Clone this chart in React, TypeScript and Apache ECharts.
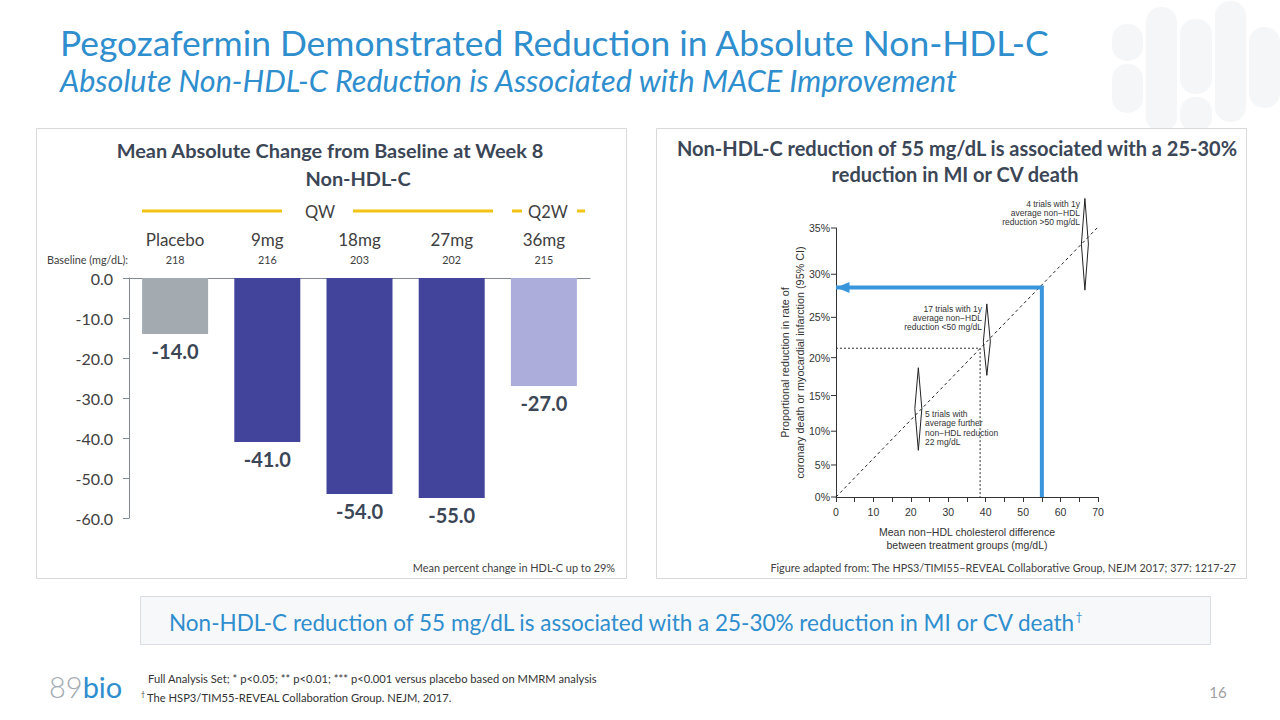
import React, { useEffect, useRef } from "react";
import * as echarts from "echarts";

// ---------- Left chart data ----------
const CATEGORIES = ["Placebo", "9mg", "18mg", "27mg", "36mg"];
const BASELINE_MGDL = [218, 216, 203, 202, 215];
const MEAN_ABS_CHANGE = [-14.0, -41.0, -54.0, -55.0, -27.0];
const BAR_COLORS = ["#a3abb1", "#42439b", "#42439b", "#42439b", "#adaddb"];
const LEFT_Y_MIN = -60;
const LEFT_Y_MAX = 0;
const LEFT_Y_STEP = 10;

// ---------- Right chart data (HPS3/TIMI55-REVEAL figure) ----------
const RIGHT_X_MIN = 0;
const RIGHT_X_MAX = 70;
const RIGHT_X_STEP = 10;
const RIGHT_Y_TICKS_PCT = [0, 5, 10, 15, 20, 25, 30, 35];
const TREND_LINE = [
  [0, 0],
  [70, 35.1],
];
// [x, lower %, mid %, upper %]
const TRIAL_DIAMONDS = [
  [22.0, 7.2, 13.2, 18.7],
  [40.3, 17.7, 22.0, 26.6],
  [66.5, 28.2, 33.3, 38.0],
];
const REFERENCE_POINT = [38.5, 21.2];
const PEGO_POINT = [55, 28.5];

// proportional reduction scale (log risk ratio)
const T = (p: number) => -Math.log(1 - p / 100);

const SANS = "Lato, 'Noto Sans', sans-serif";
const ARIAL = "'Liberation Sans', Arial, sans-serif";
const BLUE = "#2e8ece";
const SLATE = "#3b4656";
const YELLOW = "#f2c314";

function txt(
  x: number,
  y: number,
  text: string,
  font: string,
  fill: string,
  align: string = "left",
  vAlign: string = "middle",
  extra: any = {}
) {
  return {
    type: "text",
    x,
    y,
    silent: true,
    style: { text, font, fill, textAlign: align, textVerticalAlign: vAlign, ...extra },
  };
}

export default function App() {
  const ref = useRef<HTMLDivElement>(null);

  useEffect(() => {
    if (!ref.current) return;
    const chart = echarts.init(ref.current, null, { renderer: "svg" });

    const pills = [
      [1112, 24, 31, 37],
      [1112, 64, 31, 49],
      [1146, 7, 31, 125],
      [1180, 19, 32, 75],
      [1180, 97, 32, 35],
      [1215, 1, 31, 121],
      [1249, 27, 31, 81],
    ];

    const graphic: any[] = [
      ...pills.map(([x, y, w, h]) => ({
        type: "rect",
        silent: true,
        z: -10,
        shape: { x, y, width: w, height: h, r: 15 },
        style: { fill: "#f5f6f7" },
      })),
      // panels
      {
        type: "rect",
        silent: true,
        z: -5,
        shape: { x: 36.5, y: 128.5, width: 590, height: 450 },
        style: { fill: "#ffffff", stroke: "#d9d9d9", lineWidth: 1 },
      },
      {
        type: "rect",
        silent: true,
        z: -5,
        shape: { x: 656.5, y: 128.5, width: 590, height: 450 },
        style: { fill: "#ffffff", stroke: "#d9d9d9", lineWidth: 1 },
      },
      {
        type: "rect",
        silent: true,
        z: -5,
        shape: { x: 140.5, y: 596.5, width: 1070, height: 48 },
        style: { fill: "#f7f8fa", stroke: "#d9dce0", lineWidth: 1 },
      },
      // page title
      txt(60, 42, "Pegozafermin Demonstrated Reduction in Absolute Non-HDL-C", `35.4px ${SANS}`, BLUE),
      txt(
        60,
        80,
        "Absolute Non-HDL-C Reduction is Associated with MACE Improvement",
        `italic 30.5px ${SANS}`,
        BLUE
      ),
      // left panel titles
      txt(330, 150, "Mean Absolute Change from Baseline at Week 8", `bold 19.9px ${SANS}`, SLATE, "center"),
      txt(358, 178, "Non-HDL-C", `bold 19.9px ${SANS}`, SLATE, "center"),
      // QW / Q2W header
      { type: "line", silent: true, shape: { x1: 142, y1: 211, x2: 282, y2: 211 }, style: { stroke: YELLOW, lineWidth: 3 } },
      { type: "line", silent: true, shape: { x1: 353, y1: 211, x2: 493, y2: 211 }, style: { stroke: YELLOW, lineWidth: 3 } },
      { type: "line", silent: true, shape: { x1: 512, y1: 211, x2: 522, y2: 211 }, style: { stroke: YELLOW, lineWidth: 3 } },
      { type: "line", silent: true, shape: { x1: 577, y1: 211, x2: 585, y2: 211 }, style: { stroke: YELLOW, lineWidth: 3 } },
      txt(320, 212, "QW", `16.5px ${SANS}`, "#404040", "center"),
      txt(548, 212, "Q2W", `16.5px ${SANS}`, "#404040", "center"),
      txt(47, 259, "Baseline (mg/dL):", `10.8px ${SANS}`, "#404040"),
      txt(615, 567, "Mean percent change in HDL-C up to 29%", `10.9px ${SANS}`, "#404040", "right"),
      // right panel titles
      txt(
        957,
        148,
        "Non-HDL-C reduction of 55 mg/dL is associated with a 25-30%",
        `bold 20px ${SANS}`,
        SLATE,
        "center"
      ),
      txt(955, 174, "reduction in MI or CV death", `bold 20px ${SANS}`, SLATE, "center"),
      // annotations
      txt(1080, 213, "4 trials with 1y\naverage non\u2212HDL\nreduction >50 mg/dL", `8.5px ${ARIAL}`, "#333", "right", "middle", { lineHeight: 9.3 }),
      txt(982, 318, "17 trials with 1y\naverage non\u2212HDL\nreduction <50 mg/dL", `8.5px ${ARIAL}`, "#333", "right", "middle", { lineHeight: 9.3 }),
      txt(925, 428, "5 trials with\naverage further\nnon\u2212HDL reduction\n22 mg/dL", `8.5px ${ARIAL}`, "#333", "left", "middle", { lineHeight: 9.3 }),
      txt(
        1236,
        567,
        "Figure adapted from: The HPS3/TIMI55\u2013REVEAL Collaborative Group, NEJM 2017; 377: 1217-27",
        `10.8px ${SANS}`,
        "#404040",
        "right"
      ),
      // bottom message
      {
        type: "text",
        x: 625,
        y: 622,
        silent: true,
        style: {
          text: "{a|Non-HDL-C reduction of 55 mg/dL is associated with a 25-30% reduction in MI or CV death}{b|\u2020}",
          textAlign: "center",
          textVerticalAlign: "middle",
          rich: {
            a: { font: `22.5px ${SANS}`, fill: BLUE, color: BLUE },
            b: { font: `12px ${SANS}`, fill: BLUE, color: BLUE, padding: [0, 0, 12, 0] },
          },
        },
      },
      // footnotes
      txt(148, 678, "Full Analysis Set; * p<0.05; ** p<0.01; *** p<0.001 versus placebo based on MMRM analysis", `11.2px ${SANS}`, "#333"),
      txt(141, 694, "\u2020", `7px ${SANS}`, "#333"),
      txt(147, 697, "The HSP3/TIM55-REVEAL Collaboration Group. NEJM, 2017.", `11.2px ${SANS}`, "#333"),
      // logo
      {
        type: "text",
        x: 49,
        y: 686,
        silent: true,
        style: {
          text: "{g|89}{b|bio}",
          textAlign: "left",
          textVerticalAlign: "middle",
          rich: {
            g: { font: `300 29px ${SANS}`, fill: "#a3abb3", color: "#a3abb3" },
            b: { font: `400 29px ${SANS}`, fill: BLUE, color: BLUE },
          },
        },
      },
      txt(1218, 692, "16", `15px ${SANS}`, "#a0a0a0", "center"),
    ];

    const option: any = {
      animation: false,
      backgroundColor: "#ffffff",
      graphic,
      grid: [
        { left: 129, top: 278, width: 461, height: 240 },
        { left: 836, top: 228, width: 262, height: 269 },
      ],
      xAxis: [
        {
          type: "category",
          gridIndex: 0,
          position: "top",
          data: CATEGORIES,
          axisLine: { lineStyle: { color: "#7f8a96", width: 1 } },
          axisTick: { show: false },
          axisLabel: {
            margin: 10,
            interval: 0,
            formatter: (v: string, i: number) => `{a|${v}}\n{b|${BASELINE_MGDL[i]}}`,
            rich: {
              a: { fontSize: 17, fontFamily: SANS, color: "#404040", lineHeight: 22 },
              b: { fontSize: 10.8, fontFamily: SANS, color: "#404040", lineHeight: 18 },
            },
          },
          splitLine: { show: false },
        },
        {
          type: "value",
          gridIndex: 1,
          min: RIGHT_X_MIN,
          max: RIGHT_X_MAX,
          interval: RIGHT_X_STEP,
          axisLine: { onZero: false, lineStyle: { color: "#333", width: 1 } },
          axisTick: { show: true, length: 5, lineStyle: { color: "#333" } },
          minorTick: { show: true, splitNumber: 2, length: 5, lineStyle: { color: "#333" } },
          axisLabel: { fontSize: 10.5, fontFamily: ARIAL, color: "#333", margin: 9 },
          splitLine: { show: false },
          minorSplitLine: { show: false },
          name: "Mean non\u2212HDL cholesterol difference\nbetween treatment groups (mg/dL)",
          nameLocation: "middle",
          nameGap: 29,
          nameTextStyle: { fontSize: 10.5, fontFamily: ARIAL, color: "#333", lineHeight: 12.5 },
        },
      ],
      yAxis: [
        {
          type: "value",
          gridIndex: 0,
          min: LEFT_Y_MIN,
          max: LEFT_Y_MAX,
          interval: LEFT_Y_STEP,
          axisLine: { show: true, lineStyle: { color: "#7f8a96", width: 1 } },
          axisTick: { show: true, length: 6, lineStyle: { color: "#7f8a96" } },
          axisLabel: {
            fontSize: 16,
            fontFamily: SANS,
            color: "#404040",
            margin: 16,
            formatter: (v: number) => v.toFixed(1),
          },
          splitLine: { show: false },
        },
        {
          type: "value",
          gridIndex: 1,
          min: 0,
          max: T(RIGHT_Y_TICKS_PCT[RIGHT_Y_TICKS_PCT.length - 1]),
          axisLine: { show: true, onZero: false, lineStyle: { color: "#333", width: 1 } },
          axisTick: { show: false },
          axisLabel: { show: false },
          splitLine: { show: false },
          name: "Proportional reduction in rate of\ncoronary death or myocardial infarction (95% CI)",
          nameLocation: "middle",
          nameRotate: 90,
          nameGap: 29,
          nameTextStyle: { fontSize: 10.8, fontFamily: ARIAL, color: "#333", lineHeight: 14.5 },
        },
      ],
      series: [
        {
          type: "bar",
          xAxisIndex: 0,
          yAxisIndex: 0,
          barWidth: 66,
          data: MEAN_ABS_CHANGE.map((v, i) => ({ value: v, itemStyle: { color: BAR_COLORS[i] } })),
          label: {
            show: true,
            position: "bottom",
            distance: 7,
            formatter: (p: any) => Number(p.value).toFixed(1),
            fontSize: 20,
            fontWeight: "bold",
            fontFamily: SANS,
            color: SLATE,
          },
          silent: true,
        },
        // y ticks + labels on the proportional-reduction scale
        {
          type: "custom",
          xAxisIndex: 1,
          yAxisIndex: 1,
          silent: true,
          data: RIGHT_Y_TICKS_PCT.map((p) => [RIGHT_X_MIN, T(p), p]),
          renderItem: (_params: any, api: any) => {
            const pt = api.coord([api.value(0), api.value(1)]);
            return {
              type: "group",
              children: [
                {
                  type: "line",
                  shape: { x1: pt[0] - 5, y1: pt[1], x2: pt[0], y2: pt[1] },
                  style: { stroke: "#333", lineWidth: 1 },
                },
                {
                  type: "text",
                  x: pt[0] - 6,
                  y: pt[1],
                  style: {
                    text: `${api.value(2)}%`,
                    font: `10.5px ${ARIAL}`,
                    fill: "#333",
                    textAlign: "right",
                    textVerticalAlign: "middle",
                  },
                },
              ],
            };
          },
        },
        {
          type: "line",
          xAxisIndex: 1,
          yAxisIndex: 1,
          silent: true,
          symbol: "none",
          data: TREND_LINE.map(([x, p]) => [x, T(p)]),
          lineStyle: { color: "#222", width: 1, type: [3, 3] },
          z: 3,
        },
        {
          type: "line",
          xAxisIndex: 1,
          yAxisIndex: 1,
          silent: true,
          symbol: "none",
          data: [
            [RIGHT_X_MIN, T(REFERENCE_POINT[1])],
            [REFERENCE_POINT[0], T(REFERENCE_POINT[1])],
            [REFERENCE_POINT[0], 0],
          ],
          lineStyle: { color: "#333", width: 1, type: [2, 2] },
          z: 3,
        },
        {
          type: "custom",
          xAxisIndex: 1,
          yAxisIndex: 1,
          silent: true,
          clip: false,
          data: TRIAL_DIAMONDS.map(([x, lo, mid, hi]) => [x, T(lo), T(mid), T(hi)]),
          renderItem: (_params: any, api: any) => {
            const x = api.value(0);
            const lo = api.coord([x, api.value(1)]);
            const mid = api.coord([x, api.value(2)]);
            const hi = api.coord([x, api.value(3)]);
            return {
              type: "polygon",
              shape: {
                points: [
                  [hi[0], hi[1]],
                  [mid[0] + 3.5, mid[1]],
                  [lo[0], lo[1]],
                  [mid[0] - 3.5, mid[1]],
                ],
              },
              style: { fill: "none", stroke: "#222", lineWidth: 1 },
            };
          },
          z: 4,
        },
        {
          type: "line",
          xAxisIndex: 1,
          yAxisIndex: 1,
          silent: true,
          symbol: "none",
          data: [
            [PEGO_POINT[0], 0],
            [PEGO_POINT[0], T(PEGO_POINT[1])],
            {
              value: [RIGHT_X_MIN, T(PEGO_POINT[1])],
              symbol: "triangle",
              symbolSize: [11, 13],
              symbolRotate: 90,
              symbolOffset: [7, 0],
            },
          ],
          lineStyle: { color: "#3a96dc", width: 4, cap: "butt", join: "miter" },
          itemStyle: { color: "#3a96dc" },
          z: 5,
        },
      ],
    };

    chart.setOption(option);
    return () => chart.dispose();
  }, []);

  return (
    <div
      ref={ref}
      style={{ position: "absolute", left: 0, top: 0, width: 1280, height: 720, background: "#fff" }}
    />
  );
}
